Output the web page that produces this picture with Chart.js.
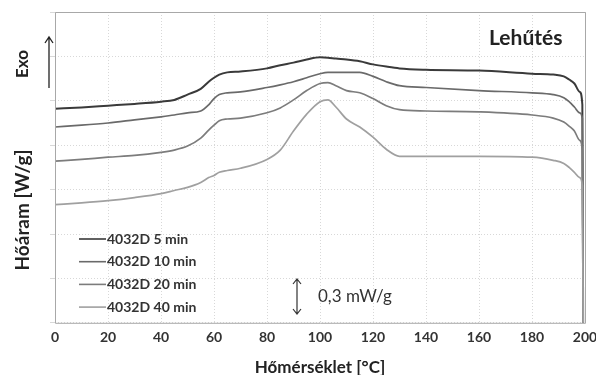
<!DOCTYPE html>
<html>
<head>
<meta charset="utf-8">
<script src="https://cdn.jsdelivr.net/npm/chart.js@4.4.1/dist/chart.umd.min.js"></script>
<style>
  html, body { margin: 0; padding: 0; background: #fff; }
  #wrap { width: 596px; height: 375px; }
</style>
</head>
<body>
<div id="wrap"><canvas id="dsc" width="596" height="375"></canvas></div>
<script>
// homerseklet (°C) - kozos x ertekek
const temps = [0, 10, 20, 30, 40, 45, 50, 55, 58, 60, 62, 65, 70, 80, 85, 90, 95, 100, 103, 106,
  110, 115, 120, 125, 130, 140, 160, 180, 188, 192, 194, 196, 198, 199, 199.3];

// hoaram gorbek (relativ egyseg, eltolva)
const min5 = [4.82, 4.85, 4.89, 4.93, 4.98, 5.02, 5.14, 5.27, 5.43, 5.52, 5.59, 5.64, 5.66, 5.73, 5.80, 5.86, 5.93, 5.98, 5.97, 5.95,
  5.93, 5.89, 5.82, 5.77, 5.73, 5.70, 5.68, 5.61, 5.59, 5.55, 5.48, 5.39, 5.20, 4.91, 0];
const min10 = [4.41, 4.45, 4.50, 4.57, 4.64, 4.68, 4.73, 4.77, 4.91, 5.05, 5.14, 5.18, 5.20, 5.30, 5.36, 5.43, 5.52, 5.61, 5.64, 5.64,
  5.64, 5.64, 5.55, 5.43, 5.34, 5.30, 5.23, 5.18, 5.14, 5.07, 4.98, 4.86, 4.73, 4.61, 0];
const min20 = [3.64, 3.68, 3.73, 3.77, 3.84, 3.89, 3.98, 4.16, 4.34, 4.45, 4.55, 4.59, 4.61, 4.73, 4.84, 5.02, 5.23, 5.39, 5.41, 5.34,
  5.23, 5.18, 5.05, 4.89, 4.80, 4.77, 4.75, 4.68, 4.61, 4.52, 4.43, 4.32, 4.11, 3.89, 0];
const min40 = [2.66, 2.70, 2.75, 2.82, 2.91, 2.98, 3.05, 3.16, 3.27, 3.32, 3.39, 3.43, 3.48, 3.68, 3.89, 4.32, 4.70, 4.98, 5.02, 4.86,
  4.59, 4.41, 4.18, 3.91, 3.75, 3.75, 3.75, 3.73, 3.66, 3.59, 3.50, 3.39, 3.27, 3.09, 0];

const seriesNames = ['4032D 5 min', '4032D 10 min', '4032D 20 min', '4032D 40 min'];
const seriesColors = ['#3a3a3a', '#6a6a6a', '#7c7c7c', '#a0a0a0'];
const xTicks = [0, 20, 40, 60, 80, 100, 120, 140, 160, 180, 200];

const FONT = 'Lato, "Open Sans", sans-serif';

function pts(vals) {
  return temps.map((t, i) => ({ x: t, y: vals[i] }));
}

// keret, feliratok, jelmagyarazat
const extras = {
  id: 'extras',
  afterDraw(chart) {
    const c = chart.ctx;
    const a = chart.chartArea;
    c.save();
    // keret
    c.strokeStyle = '#a8a8a8';
    c.lineWidth = 1;
    c.beginPath();
    c.moveTo(a.left + 0.5, a.top + 0.5);
    c.lineTo(a.right + 0.5, a.top + 0.5);
    c.lineTo(a.right + 0.5, a.bottom + 0.5);
    c.lineTo(a.left + 0.5, a.bottom + 0.5);
    c.closePath();
    c.stroke();

    c.fillStyle = '#222';
    c.font = 'bold 21px ' + FONT;
    c.textAlign = 'left';
    c.textBaseline = 'middle';
    c.fillText('Lehűtés', 489, 38);

    // y felirat
    c.save();
    c.translate(23, 210);
    c.rotate(-Math.PI / 2);
    c.textAlign = 'center';
    c.font = 'bold 19px ' + FONT;
    c.fillText('Hőáram [W/g]', 0, 0);
    c.restore();
    c.save();
    c.translate(23, 64);
    c.rotate(-Math.PI / 2);
    c.textAlign = 'center';
    c.font = 'bold 17px ' + FONT;
    c.fillText('Exo', 0, 0);
    c.restore();

    // Exo nyil
    c.strokeStyle = '#222';
    c.lineWidth = 1.3;
    c.beginPath();
    c.moveTo(49, 88); c.lineTo(49, 37);
    c.moveTo(45, 43); c.lineTo(49, 37); c.lineTo(53, 43);
    c.stroke();

    // skala nyil
    c.strokeStyle = '#333';
    c.lineWidth = 1.2;
    c.beginPath();
    c.moveTo(297, 279); c.lineTo(297, 314);
    c.moveTo(293, 284); c.lineTo(297, 279); c.lineTo(301, 284);
    c.moveTo(293, 309); c.lineTo(297, 314); c.lineTo(301, 309);
    c.stroke();
    c.fillStyle = '#333';
    c.font = '17px ' + FONT;
    c.fillText('0,3 mW/g', 318, 297);

    // jelmagyarazat
    c.font = 'bold 14px ' + FONT;
    seriesNames.forEach((name, i) => {
      const y = 239 + i * 22.7;
      c.strokeStyle = seriesColors[i];
      c.lineWidth = 1.6;
      c.beginPath();
      c.moveTo(79, y); c.lineTo(106, y);
      c.stroke();
      c.fillStyle = '#333';
      c.fillText(name, 107, y);
    });
    c.restore();
  }
};

const data = {
  datasets: [min5, min10, min20, min40].map((vals, i) => ({
    label: seriesNames[i],
    data: pts(vals),
    borderColor: seriesColors[i],
    borderWidth: i === 0 ? 2 : 1.7,
    pointRadius: 0,
    fill: false,
    cubicInterpolationMode: 'monotone'
  })).reverse()
};

new Chart(document.getElementById('dsc'), {
  type: 'line',
  data: data,
  options: {
    responsive: false,
    animation: false,
    layout: { padding: { left: 50, right: 11, top: 12, bottom: 0 } },
    plugins: { legend: { display: false }, tooltip: { enabled: false } },
    scales: {
      x: {
        type: 'linear',
        min: 0, max: 200,
        afterBuildTicks: s => { s.ticks = xTicks.map(v => ({ value: v })); },
        afterFit: s => { s.paddingRight = 0; s.paddingLeft = 0; },
        ticks: { color: '#333', font: { family: FONT, size: 14, weight: 'bold' }, padding: 6, maxRotation: 0 },
        grid: { color: '#d8d8d8', drawTicks: false, tickLength: 0 },
        border: { display: false, dash: [1, 2] },
        title: { display: true, text: 'Hőmérséklet [°C]', color: '#222', font: { family: FONT, size: 17, weight: 'bold' }, padding: { top: 6, bottom: -3 } }
      },
      y: {
        min: 0, max: 7,
        ticks: { display: false, stepSize: 1 },
        grid: { color: '#d8d8d8', tickLength: 5 },
        border: { display: false, dash: [1, 2] }
      }
    }
  },
  plugins: [extras]
});
</script>
</body>
</html>
